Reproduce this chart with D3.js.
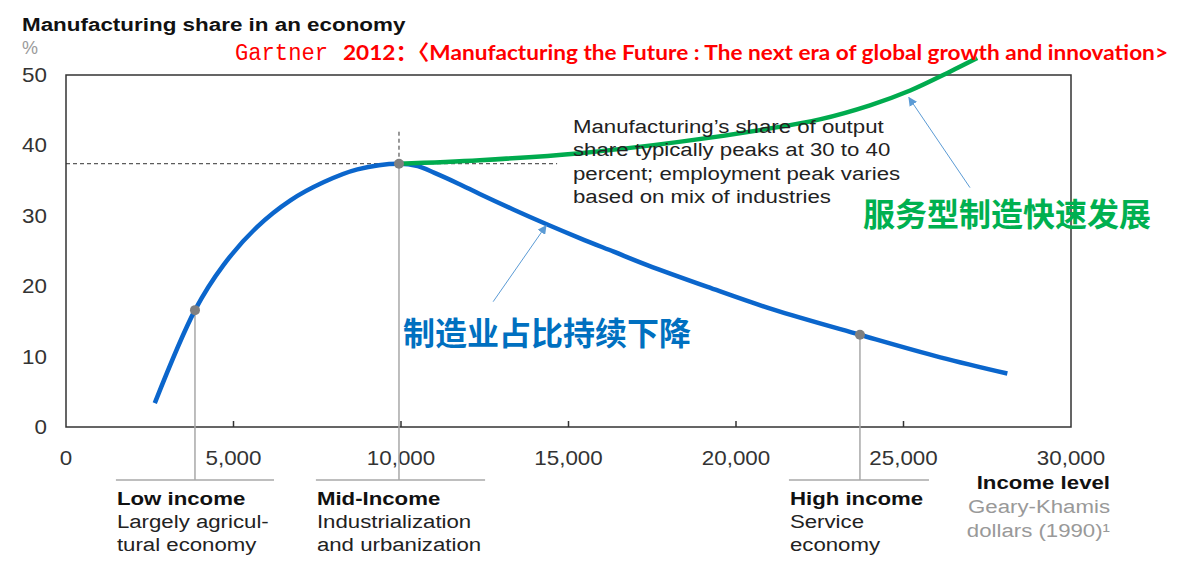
<!DOCTYPE html>
<html>
<head>
<meta charset="utf-8">
<script src="https://cdn.jsdelivr.net/npm/d3@7/dist/d3.min.js"></script>
<style>
  html, body { margin: 0; padding: 0; background: #fff; }
  svg { display: block; }
</style>
</head>
<body>
<div class="chart"></div>
<script>
// Axis ticks
const incomeTicks = [0, 5000, 10000, 15000, 20000, 25000, 30000];
const shareTicks = [0, 10, 20, 30, 40, 50];

// Manufacturing share curve (blue, declining after the peak)
const declineIncome = [2650, 3850, 4700, 5700, 6700, 7700, 8700, 9940, 10500, 11000, 11700, 12350,
  13350, 14350, 15350, 16350, 17350, 19150, 21100, 23700, 26100, 28100];
const declineShare = [3.4, 16.6, 23.0, 28.4, 32.2, 34.8, 36.6, 37.4, 37.05, 36.1, 34.6, 33.1,
  30.9, 28.8, 26.8, 24.9, 23.0, 19.9, 16.7, 13.1, 9.9, 7.6];

// Service-oriented manufacturing curve (green, rising after the peak)
const serviceIncome = [9940, 12350, 15350, 18300, 21000, 22500, 24000, 25200, 26400, 27200];
const serviceShare = [37.4, 37.9, 38.9, 40.5, 42.4, 43.7, 45.7, 47.8, 50.5, 52.4];

// Income stages
const stageTitles = ["Low income", "Mid-Income", "High income"];
const stageLines = [["Largely agricul-", "tural economy"], ["Industrialization", "and urbanization"], ["Service", "economy"]];
const stageIncome = [3850, 9940, 23700];
const stageShare = [16.6, 37.4, 13.1];
const stageFrom = [1490, 7460, 21580];
const stageTo = [6210, 12510, 25760];

const peakShare = 37.4;
const peakIncome = 9940;

/**
 * Manufacturing share chart
 */
class ShareChart
{
  constructor()
  {
    this._width = 1181;
    this._height = 574;
    // chart text in the source picture is stretched sideways
    this._sx = 1.17;
    this._font = "'Liberation Sans', Arial, sans-serif";

    this._x = d3.scaleLinear().domain([0, 30000]).range([66, 1071]);
    this._y = d3.scaleLinear().domain([0, 50]).range([427, 75]);
    this._svg = null;
  }

  /**
   * Stretched text helper
   */
  _text(g, x, y, str, size, opts = {})
  {
    return g.append("text")
      .attr("transform", `translate(${x},${y}) scale(${opts.sx || this._sx},1)`)
      .attr("font-family", opts.family || this._font)
      .attr("font-size", size)
      .attr("font-weight", opts.weight || "normal")
      .attr("fill", opts.fill || "#222")
      .attr("text-anchor", opts.anchor || "start")
      .text(str);
  }

  render()
  {
    const x = this._x, y = this._y;
    this._svg = d3.select(".chart").append("svg")
      .attr("width", this._width)
      .attr("height", this._height);
    const svg = this._svg;

    // Title
    this._text(svg, 22, 31, "Manufacturing share in an economy", 19, {weight: "bold", fill: "#111", sx: 1.18});
    this._text(svg, 22, 54, "%", 18, {fill: "#9a9a9a", sx: 1.0});

    // Frame
    svg.append("rect")
      .attr("x", x(0)).attr("y", y(50))
      .attr("width", x(30000) - x(0)).attr("height", y(0) - y(50))
      .attr("fill", "none").attr("stroke", "#333").attr("stroke-width", 1.5);

    // Bottom axis ticks (pointing inside)
    svg.selectAll(".xtick").data(incomeTicks.slice(1, -1)).enter()
      .append("line")
      .attr("x1", d => x(d)).attr("x2", d => x(d))
      .attr("y1", y(0)).attr("y2", y(0) - 6)
      .attr("stroke", "#333").attr("stroke-width", 1.5);

    const fmt = d3.format(",");
    incomeTicks.forEach(d => {
      this._text(svg, x(d), y(0) + 38, fmt(d), 20, {anchor: "middle", fill: "#333", sx: 1.12});
    });
    shareTicks.forEach(d => {
      this._text(svg, 47, y(d) + 7, d, 20, {anchor: "end", fill: "#333", sx: 1.12});
    });

    // Peak reference lines
    svg.append("line")
      .attr("x1", x(0)).attr("x2", x(14660))
      .attr("y1", y(peakShare)).attr("y2", y(peakShare))
      .attr("stroke", "#333").attr("stroke-width", 1).attr("stroke-dasharray", "4,3");
    svg.append("line")
      .attr("x1", x(peakIncome)).attr("x2", x(peakIncome))
      .attr("y1", y(peakShare)).attr("y2", y(42.2))
      .attr("stroke", "#333").attr("stroke-width", 1).attr("stroke-dasharray", "4,3");

    // Stage markers: vertical drop lines and brackets
    const bracketY = y(0) + 53;
    stageTitles.forEach((t, i) => {
      svg.append("line")
        .attr("x1", x(stageIncome[i])).attr("x2", x(stageIncome[i]))
        .attr("y1", y(stageShare[i])).attr("y2", bracketY)
        .attr("stroke", "#a8a8a8").attr("stroke-width", 1.5);
      svg.append("line")
        .attr("x1", x(stageFrom[i])).attr("x2", x(stageTo[i]))
        .attr("y1", bracketY).attr("y2", bracketY)
        .attr("stroke", "#a8a8a8").attr("stroke-width", 1.5);
      this._text(svg, x(stageFrom[i]) + 1, 505, t, 19, {weight: "bold", fill: "#111"});
      stageLines[i].forEach((s, j) => {
        this._text(svg, x(stageFrom[i]) + 1, 528 + j * 23, s, 19, {fill: "#222"});
      });
    });

    // Axis title
    this._text(svg, 1110, 489, "Income level", 19, {weight: "bold", anchor: "end", fill: "#111"});
    this._text(svg, 1110, 513, "Geary-Khamis", 19, {anchor: "end", fill: "#999"});
    this._text(svg, 1110, 537, "dollars (1990)\u00b9", 19, {anchor: "end", fill: "#999"});

    // Curves
    const line = d3.line()
      .x(d => x(d[0]))
      .y(d => y(d[1]))
      .curve(d3.curveCatmullRom.alpha(0.5));

    svg.append("path")
      .datum(declineIncome.map((d, i) => [d, declineShare[i]]))
      .attr("d", line)
      .attr("fill", "none").attr("stroke", "#0b66cc").attr("stroke-width", 4.5);

    svg.append("path")
      .datum(serviceIncome.map((d, i) => [d, serviceShare[i]]))
      .attr("d", line)
      .attr("fill", "none").attr("stroke", "#00ab4e").attr("stroke-width", 4.5);

    // Stage dots
    svg.selectAll(".dot").data(stageIncome).enter()
      .append("circle")
      .attr("cx", d => x(d))
      .attr("cy", (d, i) => y(stageShare[i]))
      .attr("r", 5)
      .attr("fill", "#808080");

    // Note
    const note = ["Manufacturing\u2019s share of output", "share typically peaks at 30 to 40",
      "percent; employment peak varies", "based on mix of industries"];
    note.forEach((s, i) => {
      this._text(svg, x(15134), 133 + i * 23.3, s, 19, {fill: "#222"});
    });

    // Arrows
    svg.append("defs").append("marker")
      .attr("id", "head")
      .attr("viewBox", "0 0 10 10")
      .attr("refX", 9).attr("refY", 5)
      .attr("markerWidth", 9).attr("markerHeight", 9)
      .attr("markerUnits", "userSpaceOnUse")
      .attr("orient", "auto")
      .append("path").attr("d", "M0,0L10,5L0,10z").attr("fill", "#5b9bd5");

    const arrows = [[12750, 17.8, 14330, 28.6], [26985, 34.0, 25160, 46.8]];
    arrows.forEach(a => {
      svg.append("line")
        .attr("x1", x(a[0])).attr("y1", y(a[1]))
        .attr("x2", x(a[2])).attr("y2", y(a[3]))
        .attr("stroke", "#5b9bd5").attr("stroke-width", 1)
        .attr("marker-end", "url(#head)");
    });

    // Chinese callouts
    const cjk = "'Noto Sans CJK SC', sans-serif";
    this._text(svg, x(10060), 345, "制造业占比持续下降", 32, {family: cjk, weight: "bold", fill: "#0070c0", sx: 1});
    this._text(svg, x(23790), 226, "服务型制造快速发展", 32, {family: cjk, weight: "bold", fill: "#00b050", sx: 1});

    // Source line
    svg.append("text")
      .attr("x", 235).attr("y", 60)
      .attr("font-family", "'Liberation Mono', monospace")
      .attr("font-size", 23)
      .attr("textLength", 93).attr("lengthAdjust", "spacingAndGlyphs")
      .attr("fill", "#ff0000")
      .text("Gartner");
    svg.append("text")
      .attr("x", 343).attr("y", 60)
      .attr("font-family", "Lato, 'Noto Sans CJK SC', sans-serif")
      .attr("font-size", 21).attr("font-weight", "bold")
      .attr("textLength", 825).attr("lengthAdjust", "spacingAndGlyphs")
      .attr("fill", "#ff0000")
      .text("2012\uff1a\u3008Manufacturing the Future : The next era of global growth and innovation>");
  }
}

new ShareChart().render();
</script>
</body>
</html>
